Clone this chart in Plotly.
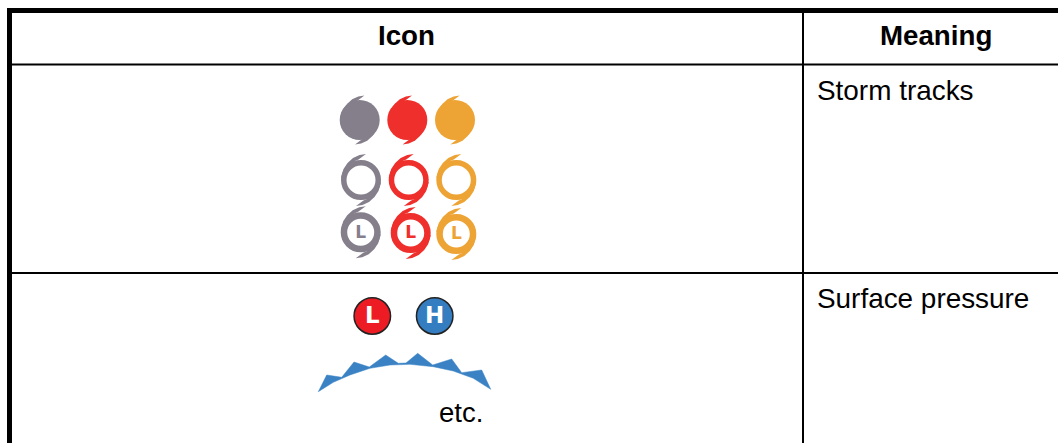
import plotly.graph_objects as go

W, H = 1058, 443
FONT = "Liberation Sans"
ICON_FONT = "DejaVu Sans"

# Icon colours
storm_colors = ["#857F8C", "#EF2F2B", "#EDA434"]
pressure_colors = ["#ED1C24", "#337DC0"]
front_color = "#3A82C4"

# Storm icon centres
filled_x = [359.7, 407.3, 455.0]
filled_y = [120.0, 120.0, 120.0]
ring_x = [361.0, 408.7, 456.3]
ring_y = [180.0, 180.0, 180.0]
lring_x = [360.7, 410.7, 456.3]
lring_y = [232.3, 233.0, 234.0]

# Pressure icons
press_x = [372.3, 434.7]
press_y = [316.0, 316.0]
press_labels = ["L", "H"]

# Storm tail outlines, relative to the icon centre
tail_dx = [5.0, -1.5, -8.0, -13.5, -17.5, -20.0, -15.0, -11.0, -6.0, -2.5]
tail_dy = [-26.0, -25.0, -22.0, -17.0, -11.0, -2.0, -3.0, -13.0, -19.0, -20.5]
filled_tail_scale = 0.94

# Front outline
front_x = [318.3, 326.7, 341.7, 354.0, 369.3, 385.7, 398.3, 406.0, 417.7, 432.7, 451.7, 461.7,
           481.7, 490.7, 473.3, 453.3, 433.3, 410.0, 390.0, 370.0, 350.0, 333.3, 318.3]
front_y = [391.7, 375.0, 377.3, 362.0, 367.0, 355.0, 363.3, 363.0, 353.3, 365.0, 359.0, 372.7,
           370.0, 389.3, 378.3, 371.0, 366.7, 364.3, 365.0, 368.3, 375.0, 382.3, 391.7]

# Table rules: (x0, y0, x1, y1, width)
rules = [
    (7, 10.5, W, 10.5, 5), (9.5, 8, 9.5, H, 5),
    (10, 64.5, W, 64.5, 2), (10, 273, W, 273, 2),
    (803, 10, 803, H, 2),
]

# Table texts: (text, x, y, anchor, bold, size)
texts = [
    ("Icon", 406, 35, "center", True, 27.7),
    ("Meaning", 935.5, 35, "center", True, 27.7),
    ("Storm tracks", 817, 90, "left", False, 27.9),
    ("Surface pressure", 817, 298, "left", False, 27.9),
    ("etc.", 439, 412, "left", False, 27.5),
]

fig = go.Figure()


def add_tails(cx, cy, color, scale=1.0):
    # upper tail and its point-mirrored lower tail
    for sign in (1, -1):
        fig.add_trace(go.Scatter(
            x=[cx + sign * scale * d for d in tail_dx] + [cx + sign * scale * tail_dx[0]],
            y=[cy + sign * scale * d for d in tail_dy] + [cy + sign * scale * tail_dy[0]],
            mode="lines", fill="toself", fillcolor=color, line=dict(width=0, color=color),
            hoverinfo="skip", showlegend=False))


for xs, ys, scale in [(filled_x, filled_y, filled_tail_scale), (ring_x, ring_y, 1.0), (lring_x, lring_y, 1.0)]:
    for cx, cy, c in zip(xs, ys, storm_colors):
        add_tails(cx, cy, c, scale)

fig.add_trace(go.Scatter(
    x=filled_x, y=filled_y, mode="markers", hoverinfo="skip", showlegend=False,
    marker=dict(size=40, color=storm_colors, line=dict(width=0))))
fig.add_trace(go.Scatter(
    x=ring_x, y=ring_y, mode="markers", hoverinfo="skip", showlegend=False,
    marker=dict(size=34.5, color="white", line=dict(width=5.5, color=storm_colors))))
fig.add_trace(go.Scatter(
    x=lring_x, y=lring_y, mode="markers", hoverinfo="skip", showlegend=False,
    marker=dict(size=33.5, color="white", line=dict(width=6.5, color=storm_colors))))
fig.add_trace(go.Scatter(
    x=lring_x, y=[v + 1.0 for v in lring_y], mode="text", hoverinfo="skip", showlegend=False,
    text=["<b>L</b>"] * 3, textposition="middle center",
    textfont=dict(family=ICON_FONT, size=17, color=storm_colors)))

fig.add_trace(go.Scatter(
    x=press_x, y=press_y, mode="markers", hoverinfo="skip", showlegend=False,
    marker=dict(size=36.5, color=pressure_colors, line=dict(width=1.5, color="#222222"))))
fig.add_trace(go.Scatter(
    x=press_x, y=[v + 1.5 for v in press_y], mode="text", hoverinfo="skip", showlegend=False,
    text=[f"<b>{t}</b>" for t in press_labels], textposition="middle center",
    textfont=dict(family=ICON_FONT, size=23, color="white")))

fig.add_trace(go.Scatter(
    x=front_x, y=front_y, mode="lines", fill="toself", fillcolor=front_color,
    line=dict(width=0.5, color=front_color), hoverinfo="skip", showlegend=False))

for x0, y0, x1, y1, w in rules:
    fig.add_shape(type="line", x0=x0, y0=y0, x1=x1, y1=y1, xref="x", yref="y",
                  line=dict(color="black", width=w), layer="above")

for t, x, y, anchor, bold, size in texts:
    fig.add_annotation(x=x, y=y, xref="x", yref="y", text=f"<b>{t}</b>" if bold else t,
                       showarrow=False, xanchor=anchor, yanchor="middle", borderpad=0, borderwidth=0,
                       font=dict(family=FONT, size=size, color="black"))

fig.update_layout(
    width=W, height=H, margin=dict(l=0, r=0, t=0, b=0, pad=0),
    paper_bgcolor="white", plot_bgcolor="white", showlegend=False,
    xaxis=dict(range=[0, W], visible=False, fixedrange=True),
    yaxis=dict(range=[H, 0], visible=False, fixedrange=True),
)
fig.write_html("out.html", config={"displayModeBar": False},
               post_script="document.body.style.margin='0';document.documentElement.style.overflow='hidden';")
